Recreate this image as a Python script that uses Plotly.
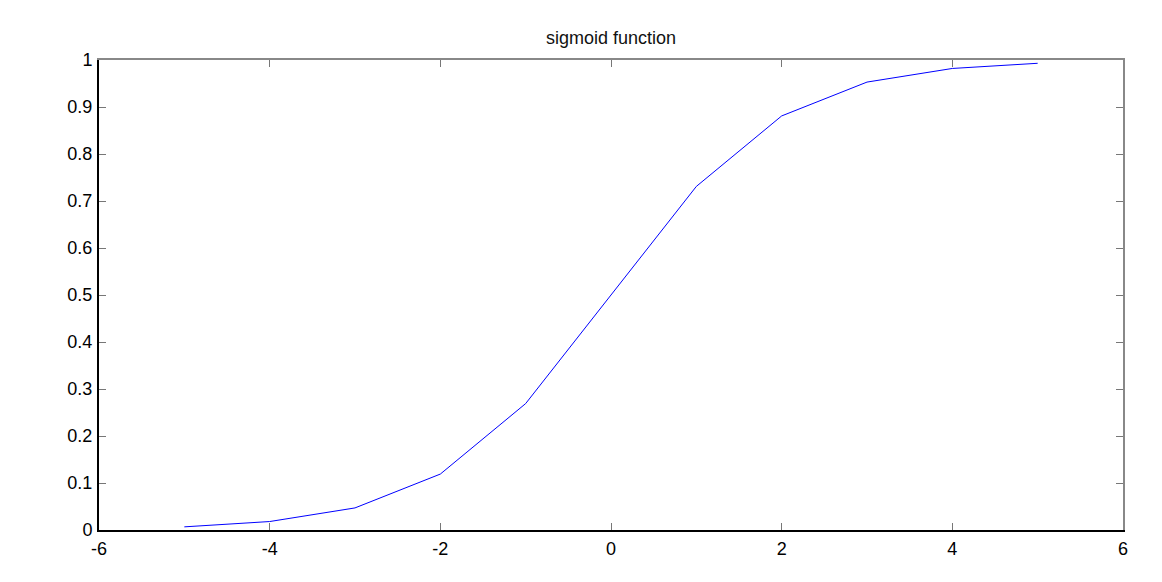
import plotly.graph_objects as go

x_vals = [-5, -4, -3, -2, -1, 0, 1, 2, 3, 4, 5]
y_vals = [0.0067, 0.018, 0.047, 0.119, 0.269, 0.5, 0.731, 0.881, 0.953, 0.982, 0.993]
x_ticks = [-6, -4, -2, 0, 2, 4, 6]
y_ticks = [0, 0.1, 0.2, 0.3, 0.4, 0.5, 0.6, 0.7, 0.8, 0.9, 1]
y_tick_text = ["0", "0.1", "0.2", "0.3", "0.4", "0.5", "0.6", "0.7", "0.8", "0.9", "1"]

fig = go.Figure()
fig.add_trace(go.Scatter(x=x_vals, y=y_vals, mode="lines",
                         line=dict(color="#0000ff", width=1), showlegend=False,
                         hoverinfo="x+y"))
# invisible trace for mirror axes
fig.add_trace(go.Scatter(x=[x_ticks[0]], y=[y_ticks[0]], xaxis="x2", yaxis="y2",
                         mode="markers", marker=dict(opacity=0), showlegend=False,
                         hoverinfo="skip"))

font = "Liberation Sans, Arial, Helvetica, sans-serif"
common = dict(showgrid=False, zeroline=False, ticks="inside", ticklen=7,
              tickcolor="#777777", tickwidth=1)

fig.update_layout(
    width=1162, height=582,
    margin=dict(l=91, r=47, t=52, b=60),
    paper_bgcolor="white", plot_bgcolor="white",
    title=dict(text="sigmoid function", x=0.5, xref="paper", xanchor="center",
               y=1 - 30/582, yanchor="middle",
               font=dict(family=font, size=18, color="#111111")),
    font=dict(family=font, size=18, color="#000000"),
    xaxis=dict(range=[-6, 6], tickvals=x_ticks, ticktext=[str(v) for v in x_ticks],
               showline=True, linecolor="#000000", linewidth=2,
               ticklabelstandoff=1, **common),
    yaxis=dict(range=[0, 1], tickvals=y_ticks, ticktext=y_tick_text,
               showline=True, linecolor="#000000", linewidth=2,
               ticklabelstandoff=1, **common),
    xaxis2=dict(range=[-6, 6], tickvals=x_ticks, overlaying="x", side="top",
                matches="x", showticklabels=False,
                showline=True, linecolor="#888888", linewidth=1.5, **common),
    yaxis2=dict(range=[0, 1], tickvals=y_ticks, overlaying="y", side="right",
                matches="y", showticklabels=False,
                showline=True, linecolor="#888888", linewidth=1.5, **common),
)

fig.write_html("out.html")
